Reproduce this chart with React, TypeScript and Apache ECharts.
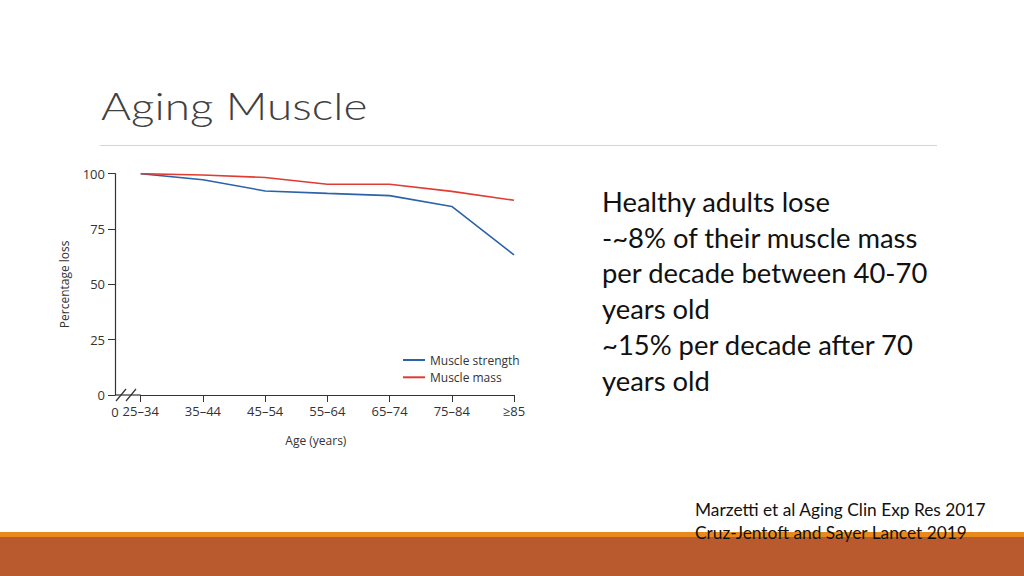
import React, { useEffect, useRef } from "react";
import * as echarts from "echarts";

const ageGroups = ["25–34", "35–44", "45–54", "55–64", "65–74", "75–84", "≥85"];
const muscleStrength = [100, 97.3, 92.2, 91.1, 90.1, 85.2, 63.3];
const muscleMass = [100, 99.4, 98.3, 95.2, 95.2, 92.0, 88.0];
const yTicks = { min: 0, max: 100, interval: 25 };
const title = "Aging Muscle";
const bodyLines = [
  "Healthy adults lose",
  "-~8% of their muscle mass",
  "per decade between 40-70",
  "years old",
  "~15% per decade after 70",
  "years old",
];
const citations = [
  "Marzetti et al Aging Clin Exp Res 2017",
  "Cruz-Jentoft and Sayer Lancet 2019",
];

export default function App() {
  const ref = useRef<HTMLDivElement>(null);
  useEffect(() => {
    if (!ref.current) return;
    const chart = echarts.init(ref.current, null, { renderer: "svg" });
    const gl = 140.7, gr = 514, gt = 173.7, gb = 395, axX = 115;
    const chartFont = "Open Sans";
    const slideFont = "Lato";
    const graphic: any[] = [
      { type: "rect", shape: { x: 0, y: 532, width: 1024, height: 5 }, style: { fill: "#e8891e" }, z: 0 },
      { type: "rect", shape: { x: 0, y: 537, width: 1024, height: 39 }, style: { fill: "#b85a2e" }, z: 0 },
      { type: "line", shape: { x1: 100, y1: 145.5, x2: 937, y2: 145.5 }, style: { stroke: "#d4d4d4", lineWidth: 1 } },
      {
        type: "text", x: 101, y: 105.7, scaleX: 1.24,
        style: { text: title, font: `300 37px ${slideFont}`, fill: "#404040", textVerticalAlign: "middle" },
      },
      ...bodyLines.map((t, i) => ({
        type: "text", x: 602, y: 201.3 + i * 35.8,
        style: { text: t, font: `400 27.4px ${slideFont}`, fill: "#111111", textVerticalAlign: "middle" },
      })),
      ...citations.map((t, i) => ({
        type: "text", x: 695, y: 509.3 + i * 23.6, scaleX: 1.05,
        style: { text: t, font: `400 16.5px ${slideFont}`, fill: "#111111", textVerticalAlign: "middle" },
        z: 10,
      })),
      // x-axis extension to y axis and break marks
      { type: "line", shape: { x1: axX, y1: gb, x2: gl, y2: gb }, style: { stroke: "#333", lineWidth: 1.2 } },
      { type: "line", shape: { x1: 116, y1: 401, x2: 126, y2: 389 }, style: { stroke: "#333", lineWidth: 1.2 } },
      { type: "line", shape: { x1: 126, y1: 401, x2: 136, y2: 389 }, style: { stroke: "#333", lineWidth: 1.2 } },
      {
        type: "text", x: axX, y: 411.5,
        style: { text: "0", font: `13px ${chartFont}`, fill: "#333", textAlign: "center", textVerticalAlign: "middle" },
      },
    ];
    chart.setOption({
      animation: false,
      backgroundColor: "#ffffff",
      textStyle: { fontFamily: chartFont },
      graphic,
      legend: {
        left: 403, top: 354, padding: 0, orient: "vertical", itemWidth: 22, itemHeight: 2, itemGap: 5.3,
        icon: "rect",
        textStyle: { fontSize: 12, color: "#333", fontFamily: chartFont, lineHeight: 12 },
        data: ["Muscle strength", "Muscle mass"],
      },
      grid: { left: gl, right: 1024 - gr, top: gt, bottom: 576 - gb, containLabel: false },
      xAxis: {
        type: "category", data: ageGroups, boundaryGap: false,
        axisLine: { lineStyle: { color: "#333", width: 1.2 } },
        axisTick: { alignWithLabel: true, length: 7, lineStyle: { color: "#333" } },
        axisLabel: { color: "#333", fontSize: 13, margin: 9, fontFamily: chartFont },
        name: "Age (years)", nameLocation: "middle", nameGap: 39,
        nameTextStyle: { color: "#333", fontSize: 12, fontFamily: chartFont, padding: [0, 23, 0, 0] },
      },
      yAxis: {
        type: "value", ...yTicks, offset: gl - axX,
        axisLine: { show: true, lineStyle: { color: "#333", width: 1.2 } },
        axisTick: { show: true, length: 7, lineStyle: { color: "#333" } },
        splitLine: { show: false },
        axisLabel: { color: "#333", fontSize: 13, margin: 10, fontFamily: chartFont },
        name: "Percentage loss", nameLocation: "middle", nameGap: 45,
        nameTextStyle: { color: "#333", fontSize: 12, fontFamily: chartFont },
      },
      series: [
        {
          name: "Muscle strength", type: "line", data: muscleStrength, symbol: "none",
          lineStyle: { color: "#2b62a8", width: 1.6 }, itemStyle: { color: "#2b62a8" },
        },
        {
          name: "Muscle mass", type: "line", data: muscleMass, symbol: "none",
          lineStyle: { color: "#e03c31", width: 1.6 }, itemStyle: { color: "#e03c31" },
        },
      ],
    });
    return () => chart.dispose();
  }, []);
  return (
    <div
      ref={ref}
      style={{ position: "fixed", left: 0, top: 0, width: 1024, height: 576, background: "#fff" }}
    />
  );
}
